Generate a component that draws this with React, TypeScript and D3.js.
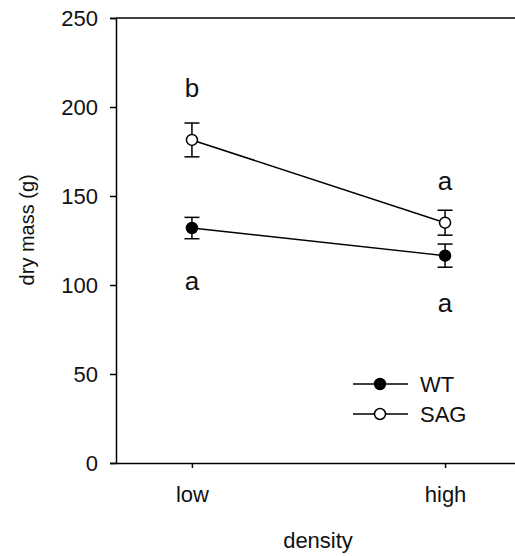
import { useEffect, useRef } from "react";
import * as d3 from "d3";

const groups = ["low", "high"];
const wtMean = [132, 116.5];
const wtErr = [6, 6.5];
const sagMean = [181.5, 135];
const sagErr = [9.5, 7];
const wtLetters = ["a", "a"];
const sagLetters = ["b", "a"];
const wtLetterY = [102.5, 90];
const sagLetterY = [210.5, 158.5];
const yTicks = [0, 50, 100, 150, 200, 250];

const width = 515;
const height = 556;
const FONT = "'Liberation Sans', Arial, sans-serif";

function App() {
  const svgRef = useRef(null);

  useEffect(() => {
    const svg = d3.select(svgRef.current);
    svg.selectAll("*").remove();

    const x = d3.scaleLinear().domain([-0.3, 1.3]).range([116, 521]);
    const y = d3.scaleLinear().domain([0, 250]).range([463, 18]);

    // top frame line
    svg.append("line").attr("x1", x(-0.3)).attr("x2", x(1.3)).attr("y1", y(250)).attr("y2", y(250))
      .attr("stroke", "#000").attr("stroke-width", 1.5);

    const yAxis = svg.append("g")
      .attr("transform", `translate(${x(-0.3)},0)`)
      .call(d3.axisLeft(y).tickValues(yTicks).tickSize(6).tickPadding(12));
    yAxis.select(".domain").attr("stroke-width", 1.5);
    yAxis.selectAll(".tick line").attr("stroke-width", 1.5);
    yAxis.selectAll("text").attr("font-size", 22).attr("font-family", FONT).attr("fill", "#111");

    const xAxis = svg.append("g")
      .attr("transform", `translate(0,${y(0)})`)
      .call(d3.axisBottom(x).tickValues([0, 1]).tickSize(5).tickPadding(18)
        .tickFormat((d) => groups[d as number]).tickSizeOuter(0));
    xAxis.select(".domain").attr("stroke-width", 1.5);
    xAxis.selectAll(".tick line").attr("stroke-width", 1.5);
    xAxis.selectAll("text").attr("font-size", 22).attr("font-family", FONT).attr("fill", "#111");

    // axis titles
    svg.append("text").attr("x", 318).attr("y", 548).attr("text-anchor", "middle")
      .attr("font-size", 22).attr("font-family", FONT).attr("fill", "#111").text("density");
    svg.append("text").attr("transform", `translate(34,${y(131)}) rotate(-90)`)
      .attr("text-anchor", "middle").attr("font-size", 20).attr("font-family", FONT)
      .attr("fill", "#111").text("dry mass (g)");

    const series = [
      { mean: sagMean, err: sagErr, fill: "#fff", letters: sagLetters, ly: sagLetterY },
      { mean: wtMean, err: wtErr, fill: "#000", letters: wtLetters, ly: wtLetterY },
    ];

    const line = d3.line<number>().x((_, i) => x(i)).y((d) => y(d));

    series.forEach((s) => {
      svg.append("path").datum(s.mean).attr("d", line).attr("fill", "none")
        .attr("stroke", "#000").attr("stroke-width", 1.5);
      s.mean.forEach((m, i) => {
        const g = svg.append("g");
        g.append("line").attr("x1", x(i)).attr("x2", x(i))
          .attr("y1", y(m - s.err[i])).attr("y2", y(m + s.err[i]))
          .attr("stroke", "#000").attr("stroke-width", 1.5);
        [m - s.err[i], m + s.err[i]].forEach((v) => {
          g.append("line").attr("x1", x(i) - 7.5).attr("x2", x(i) + 7.5)
            .attr("y1", y(v)).attr("y2", y(v)).attr("stroke", "#000").attr("stroke-width", 1.5);
        });
        g.append("circle").attr("cx", x(i)).attr("cy", y(m)).attr("r", 5.5)
          .attr("fill", s.fill).attr("stroke", "#000").attr("stroke-width", 1.5);
        svg.append("text").attr("x", x(i)).attr("y", y(s.ly[i]))
          .attr("dy", "0.35em").attr("text-anchor", "middle")
          .attr("font-size", 26).attr("font-family", FONT).attr("fill", "#111")
          .text(s.letters[i]);
      });
    });

    // legend
    const legend = [
      { label: "WT", fill: "#000" },
      { label: "SAG", fill: "#fff" },
    ];
    legend.forEach((l, i) => {
      const ly = 384 + i * 30;
      svg.append("line").attr("x1", 353).attr("x2", 408).attr("y1", ly).attr("y2", ly)
        .attr("stroke", "#000").attr("stroke-width", 1.5);
      svg.append("circle").attr("cx", 380).attr("cy", ly).attr("r", 5.5)
        .attr("fill", l.fill).attr("stroke", "#000").attr("stroke-width", 1.5);
      svg.append("text").attr("x", 420).attr("y", ly).attr("dy", "0.36em")
        .attr("font-size", 22).attr("font-family", FONT).attr("fill", "#111").text(l.label);
    });
  }, []);

  return (
    <div style={{ position: "absolute", left: 0, top: 0 }}>
      <svg width={width} height={height} ref={svgRef} style={{ display: "block", background: "#fff" }}></svg>
    </div>
  );
}

export default App;
